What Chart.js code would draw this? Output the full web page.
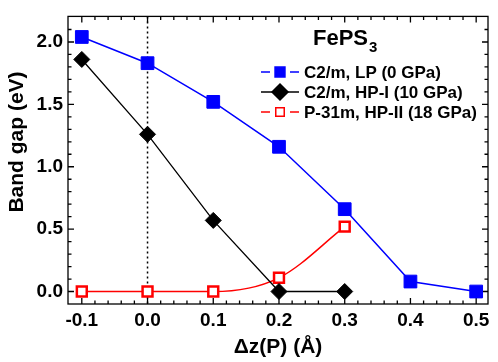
<!DOCTYPE html>
<html>
<head>
  <title>FePS3 band gap</title>
  <script src="https://cdn.jsdelivr.net/npm/chart.js@4.4.0/dist/chart.umd.min.js"></script>
  <style>
    body { margin: 0; background: #fff; }
  </style>
</head>
<body>
  <canvas id="gapChart" width="498" height="362"></canvas>

  <script>
    // data
    var dz = [-0.1, 0.0, 0.1, 0.2, 0.3, 0.4, 0.5];
    var gapLP = [2.04, 1.83, 1.52, 1.16, 0.66, 0.08, 0.0];
    var gapHP1 = [1.86, 1.26, 0.57, 0.0, 0.0];
    var gapHP2 = [0.0, 0.0, 0.0, 0.11, 0.52];
    var seriesNames = ['C2/m, LP (0 GPa)', 'C2/m, HP-I (10 GPa)', 'P-31m, HP-II (18 GPa)'];
    var compound = 'FePS';
    var compoundSub = '3';
    var xTitle = '\u0394z(P) (\u00C5)';
    var yTitle = 'Band gap (eV)';

    function pts(ys) {
      return ys.map(function (y, i) { return { x: dz[i], y: y }; });
    }

    Chart.defaults.font.family = '"Liberation Sans", Arial, sans-serif';
    Chart.defaults.color = '#000';

    function fmt(v) {
      if (Math.abs(v) < 1e-9) v = 0;
      return v.toFixed(1);
    }

    // frame, inward ticks (major + minor) and the dotted line at dz = 0
    var frameTicks = {
      id: 'frameTicks',
      beforeDatasetsDraw: function (chart) {
        var ctx = chart.ctx, a = chart.chartArea;
        var xs = chart.scales.x, ys = chart.scales.y;
        ctx.save();
        ctx.strokeStyle = '#000';
        ctx.lineWidth = 1.3;
        ctx.strokeRect(a.left, a.top, a.right - a.left, a.bottom - a.top);

        var i, v, p, len;
        for (i = -6; i <= 26; i++) {
          v = i * 0.02;
          p = xs.getPixelForValue(v);
          if (p < a.left + 1 || p > a.right - 1) continue;
          len = (i % 5 === 0) ? 6 : 3.5;
          ctx.beginPath();
          ctx.moveTo(p, a.bottom); ctx.lineTo(p, a.bottom - len);
          ctx.moveTo(p, a.top); ctx.lineTo(p, a.top + len);
          ctx.stroke();
        }
        for (i = -1; i <= 22; i++) {
          v = i * 0.1;
          p = ys.getPixelForValue(v);
          if (p < a.top + 1 || p > a.bottom - 1) continue;
          len = (i % 5 === 0) ? 6 : 3.5;
          ctx.beginPath();
          ctx.moveTo(a.left, p); ctx.lineTo(a.left + len, p);
          ctx.moveTo(a.right, p); ctx.lineTo(a.right - len, p);
          ctx.stroke();
        }

        var x0 = xs.getPixelForValue(0);
        ctx.setLineDash([2, 3]);
        ctx.lineWidth = 1.5;
        ctx.beginPath();
        ctx.moveTo(x0, a.top); ctx.lineTo(x0, a.bottom);
        ctx.stroke();
        ctx.restore();
      },
      afterDraw: function (chart) {
        var ctx = chart.ctx;
        ctx.save();
        ctx.fillStyle = '#000';

        // y axis title
        ctx.translate(17, 142);
        ctx.rotate(-Math.PI / 2);
        ctx.font = 'bold 21px "Liberation Sans", Arial';
        ctx.textAlign = 'center';
        ctx.textBaseline = 'middle';
        ctx.fillText(yTitle, 0, 0);
        ctx.setTransform(1, 0, 0, 1, 0, 0);

        // legend heading
        ctx.textAlign = 'left';
        ctx.textBaseline = 'alphabetic';
        ctx.font = 'bold 22px "Liberation Sans", Arial';
        ctx.fillText(compound, 313, 45);
        var w = ctx.measureText(compound).width;
        ctx.font = 'bold 15px "Liberation Sans", Arial';
        ctx.fillText(compoundSub, 313 + w + 1, 52);

        // legend rows
        var rows = [72, 92, 112];
        chart.data.datasets.forEach(function (ds, k) {
          var y = rows[k];
          ctx.strokeStyle = ds.borderColor;
          ctx.lineWidth = 1.5;
          ctx.beginPath();
          ctx.moveTo(261, y); ctx.lineTo(270, y);
          ctx.moveTo(290, y); ctx.lineTo(299, y);
          if (k === 1) { ctx.moveTo(270, y); ctx.lineTo(290, y); }
          ctx.stroke();
          ctx.fillStyle = ds.pointBackgroundColor;
          ctx.strokeStyle = ds.pointBorderColor;
          Chart.helpers.drawPoint(ctx, {
            pointStyle: ds.pointStyle,
            rotation: 0,
            radius: ds.legendRadius,
            borderWidth: ds.pointBorderWidth
          }, 280, y);
          ctx.fillStyle = '#000';
          ctx.font = 'bold 17px "Liberation Sans", Arial';
          ctx.textBaseline = 'middle';
          ctx.fillText(seriesNames[k], 304, y + 1);
        });
        ctx.restore();
      }
    };

    var ctx = document.getElementById('gapChart').getContext('2d');

    var config = {
      type: 'line',
      data: {
        datasets: [{
          label: seriesNames[0],
          data: pts(gapLP),
          borderColor: '#0000ff',
          borderWidth: 1.5,
          pointStyle: 'rect',
          pointRadius: 9,
          legendRadius: 7,
          pointBackgroundColor: '#0000ff',
          pointBorderColor: '#0000ff',
          pointBorderWidth: 1
        }, {
          label: seriesNames[1],
          data: pts(gapHP1),
          borderColor: '#000',
          borderWidth: 1.3,
          pointStyle: 'rectRot',
          pointRadius: 8,
          legendRadius: 8,
          pointBackgroundColor: '#000',
          pointBorderColor: '#000',
          pointBorderWidth: 1
        }, {
          label: seriesNames[2],
          data: pts(gapHP2),
          borderColor: '#ff0000',
          borderWidth: 1.5,
          cubicInterpolationMode: 'monotone',
          pointStyle: 'rect',
          pointRadius: 7,
          legendRadius: 6,
          pointBackgroundColor: '#fff',
          pointBorderColor: '#ff0000',
          pointBorderWidth: 2.5
        }]
      },
      options: {
        responsive: false,
        animation: false,
        events: [],
        layout: { padding: { top: 8, right: 10, left: 0, bottom: 2 } },
        plugins: { legend: { display: false }, tooltip: { enabled: false } },
        scales: {
          x: {
            type: 'linear',
            min: -0.121,
            max: 0.518,
            grid: { display: false, drawTicks: false },
            border: { display: false },
            ticks: {
              stepSize: 0.1,
              includeBounds: false,
              padding: 5,
              font: { size: 19, weight: 'bold' },
              callback: fmt
            },
            title: {
              display: true,
              text: xTitle,
              font: { size: 21, weight: 'bold' },
              padding: 0
            },
            afterFit: function (s) { s.height = 56; }
          },
          y: {
            min: -0.1,
            max: 2.205,
            grid: { display: false, drawTicks: false },
            border: { display: false },
            ticks: {
              stepSize: 0.5,
              includeBounds: false,
              padding: 5,
              font: { size: 19, weight: 'bold' },
              callback: fmt
            },
            afterFit: function (s) { s.width = 68; }
          }
        }
      },
      plugins: [frameTicks]
    };

    var gapChart = new Chart(ctx, config);
  </script>
</body>
</html>
